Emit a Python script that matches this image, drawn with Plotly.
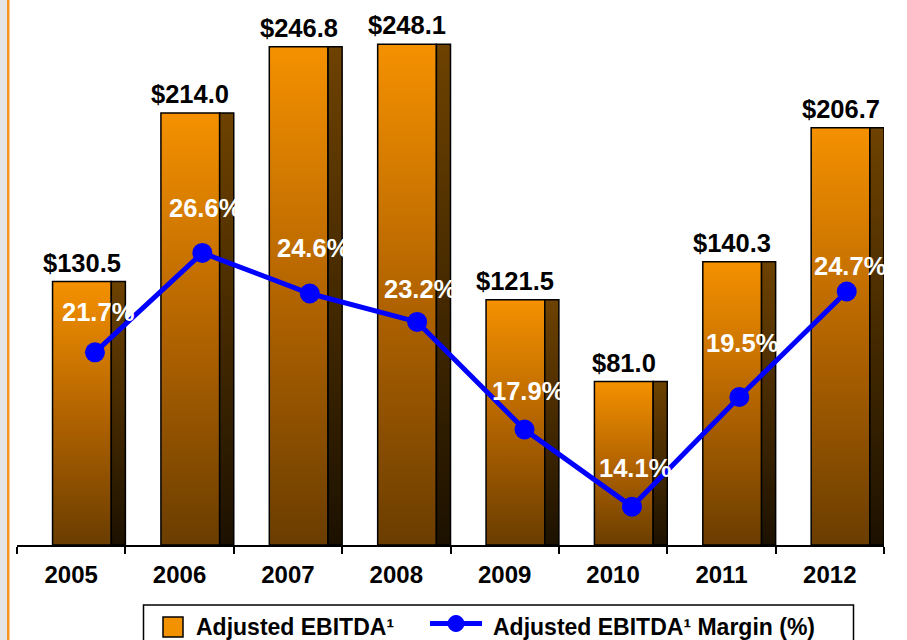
import plotly.graph_objects as go

# ---- data -------------------------------------------------------------
years = ["2005", "2006", "2007", "2008", "2009", "2010", "2011", "2012"]
ebitda = [130.5, 214.0, 246.8, 248.1, 121.5, 81.0, 140.3, 206.7]       # $ millions
margin_pct = [21.7, 26.6, 24.6, 23.2, 17.9, 14.1, 19.5, 24.7]           # %

# vertical pixel lift of each margin label above its marker
pct_label_lift = [40, 45, 46, 33, 39, 39, 54, 25]

# ---- geometry / style -------------------------------------------------
W, H = 907, 640
ML, MR, MT, MB = 17, 23, 0, 95
PW, PH = W - ML - MR, H - MT - MB

FONT = "Liberation Sans, Arial, sans-serif"
FRONT = (-0.172, 0.37)      # bar front face, in category units from the centre
SIDE = (0.37, 0.5)          # bar side face

front_cs = [[0.0, "#6A3D00"], [0.5, "#B36400"], [1.0, "#F59100"]]
side_cs = [[0.0, "#1C1100"], [1.0, "#6E4200"]]
BLUE = "#0000FF"


def px_x(p):
    return (p - ML) / PW


def px_y(p):
    return (H - MB - p) / PH


fig = go.Figure()

# 3-D style bars: gradient-filled front face plus a darker side face
for i, v in enumerate(ebitda):
    for (a, b), cs in ((FRONT, front_cs), (SIDE, side_cs)):
        fig.add_trace(go.Scatter(
            x=[i + a, i + b, i + b, i + a, i + a],
            y=[0, 0, v, v, 0],
            mode="lines",
            fill="toself",
            fillgradient=dict(type="vertical", colorscale=cs),
            line=dict(color="black", width=1.5),
            hoverinfo="skip",
            showlegend=False,
        ))

# margin line on its own (secondary) x and y axes
line_x = list(range(len(years)))
fig.add_trace(go.Scatter(
    x=line_x,
    y=margin_pct,
    xaxis="x2",
    yaxis="y2",
    mode="lines+markers",
    line=dict(color=BLUE, width=5),
    marker=dict(color=BLUE, size=20),
    showlegend=False,
    name="Adjusted EBITDA¹ Margin (%)",
))

annotations = []
front_mid = (FRONT[0] + FRONT[1]) / 2
for i, v in enumerate(ebitda):
    annotations.append(dict(
        x=i + front_mid, y=v, xref="x", yref="y",
        text=f"${v:.1f}", showarrow=False, yanchor="bottom", yshift=3,
        font=dict(family=FONT, size=25.5, color="black", weight="bold"),
    ))
for i, m in enumerate(margin_pct):
    annotations.append(dict(
        x=line_x[i], y=m, xref="x2", yref="y2",
        text=f"{m:.1f}%", showarrow=False, yanchor="middle",
        yshift=pct_label_lift[i], xshift=3,
        font=dict(family=FONT, size=25.5, color="white", weight="bold"),
    ))

# legend
legend_font = dict(family=FONT, size=23, color="black", weight="bold")
annotations.append(dict(
    x=px_x(194), y=px_y(627), xref="paper", yref="paper",
    text="Adjusted EBITDA¹", showarrow=False, xanchor="left", yanchor="middle",
    font=legend_font,
))
annotations.append(dict(
    x=px_x(491), y=px_y(627), xref="paper", yref="paper",
    text="Adjusted EBITDA¹ Margin (%)", showarrow=False, xanchor="left",
    yanchor="middle", font=legend_font,
))

shapes = [
    # page edge decoration
    dict(type="rect", xref="paper", yref="paper", x0=px_x(0), x1=px_x(7),
         y0=px_y(H + 5), y1=px_y(-5), fillcolor="#E5E5E5", line_width=0,
         layer="below"),
    dict(type="rect", xref="paper", yref="paper", x0=px_x(7), x1=px_x(9.5),
         y0=px_y(H + 5), y1=px_y(-5), fillcolor="#F7941D", line_width=0,
         layer="below"),
    # legend frame and symbols
    dict(type="rect", xref="paper", yref="paper", x0=px_x(143.5), x1=px_x(853.5),
         y0=px_y(605), y1=px_y(700), line=dict(color="black", width=1.5),
         fillcolor="rgba(0,0,0,0)"),
    dict(type="rect", xref="paper", yref="paper", x0=px_x(163), x1=px_x(183),
         y0=px_y(617), y1=px_y(637), line=dict(color="black", width=1.5),
         fillcolor="#F39200"),
    dict(type="line", xref="paper", yref="paper", x0=px_x(430), x1=px_x(482),
         y0=px_y(623.5), y1=px_y(623.5), line=dict(color=BLUE, width=5)),
    dict(type="circle", xref="paper", yref="paper", x0=px_x(448), x1=px_x(464),
         y0=px_y(615.5), y1=px_y(631.5), line=dict(color=BLUE, width=1),
         fillcolor=BLUE),
]

fig.update_layout(
    width=W, height=H,
    margin=dict(l=ML, r=MR, t=MT, b=MB, pad=0),
    paper_bgcolor="white", plot_bgcolor="white",
    font=dict(family=FONT, color="black"),
    showlegend=False,
    annotations=annotations,
    shapes=shapes,
    xaxis=dict(
        range=[-0.5, len(years) - 0.5],
        tickmode="array", tickvals=list(range(len(years))), ticktext=years,
        ticks="", showgrid=False, zeroline=False,
        showline=True, linecolor="black", linewidth=1.5,
        tickfont=dict(family=FONT, size=24, color="black", weight="bold"),
        ticklabelstandoff=7,
        minor=dict(tickvals=[k - 0.5 for k in range(len(years) + 1)],
                   ticks="outside", ticklen=7, tickwidth=1.5, tickcolor="black"),
        fixedrange=True,
    ),
    xaxis2=dict(range=[-0.726, 7.347], overlaying="x", visible=False,
                fixedrange=True),
    yaxis=dict(range=[0, 270], showticklabels=False, showgrid=False,
               zeroline=False, showline=False, ticks="", fixedrange=True),
    yaxis2=dict(range=[12.21, 39.06], overlaying="y", showticklabels=False,
                showgrid=False, zeroline=False, showline=False, ticks="",
                fixedrange=True),
)

fig.write_html("out.html")
